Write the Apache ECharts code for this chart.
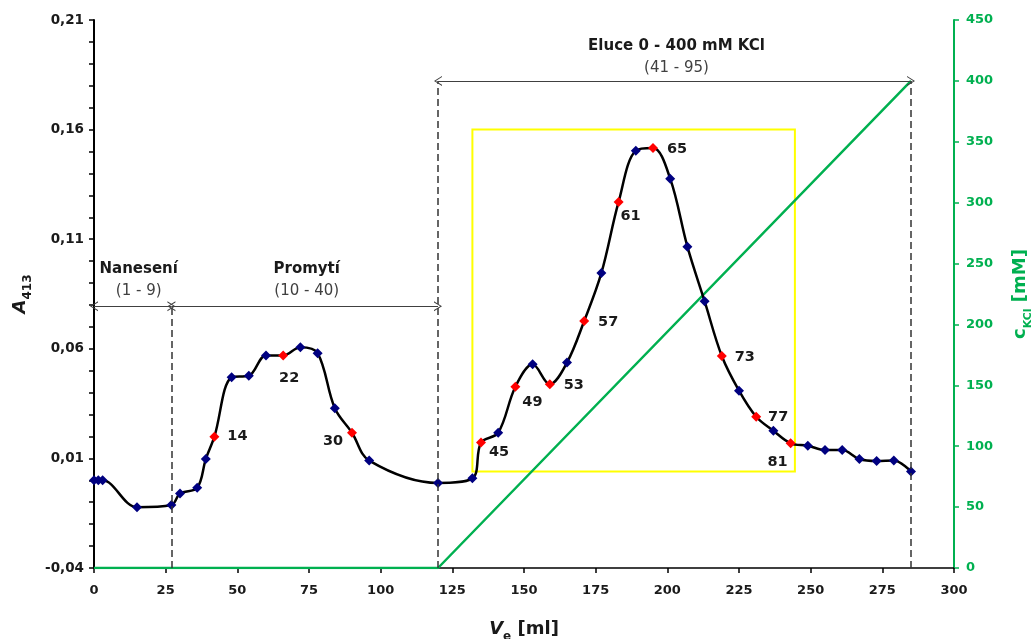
<!DOCTYPE html>
<html>
<head>
<meta charset="utf-8">
<script src="https://cdn.jsdelivr.net/npm/echarts@6/dist/echarts.min.js"></script>
<style>
  html, body { margin: 0; padding: 0; background: #fff; }
  #chart { width: 1033px; height: 639px; }
</style>
</head>
<body>
<div id="chart"></div>
<script>
// elution volume [ml] and absorbance at 413 nm
const volume = [0, 1.5, 3, 15, 27, 30, 36, 39, 42, 48, 54, 60, 66, 72, 78, 84, 90, 96, 120,
  132, 135, 141, 147, 153, 159, 165, 171, 177, 183, 189, 195, 201, 207, 213, 219, 225, 231,
  237, 243, 249, 255, 261, 267, 273, 279, 285];
const absorbance = [0.0, 0.0, 0.0, -0.0123, -0.0113, -0.006, -0.0034, 0.0097, 0.0199, 0.047,
  0.0477, 0.057, 0.057, 0.0607, 0.058, 0.0329, 0.0217, 0.009, -0.0012,
  0.0009, 0.0172, 0.0217, 0.0427, 0.0529, 0.0438, 0.0537, 0.0727, 0.0946, 0.127, 0.1504,
  0.1516, 0.1376, 0.1066, 0.0817, 0.0567, 0.0409, 0.029, 0.0226, 0.0169, 0.0158, 0.0138,
  0.0138, 0.0097, 0.0088, 0.009, 0.004];
// fractions marked red (1 fraction = 3 ml)
const markedFractions = [14, 22, 30, 45, 49, 53, 57, 61, 65, 73, 77, 81];
const fractionVolume = 3;

// KCl gradient
const kclVolume = [0, 120, 285];
const kclConc = [0, 0, 400];

// phases
const phaseNames = ['Nanesení', 'Promytí', 'Eluce 0 - 400 mM KCl'];
const phaseFractions = ['(1 - 9)', '(10 - 40)', '(41 - 95)'];
const phaseStart = [0, 27, 120];
const phaseEnd = [27, 120, 285];

// axis ranges
const xMin = 0, xMax = 300, xStep = 25;
const yMin = -0.04, yMax = 0.21, yStep = 0.05;
const y2Min = 0, y2Max = 450, y2Step = 50;

// pooled region (yellow box)
const poolBox = [[132, 0.004], [244.5, 0.16]];

// label placement per marked fraction (style only)
const labelOffset = {
  14: [23, 0], 22: [6, 23], 30: [-19, 8], 45: [18, 10], 49: [17, 16], 53: [24, 1],
  57: [24, 1], 61: [12, 14], 65: [24, 1], 73: [23, 1], 77: [22, 0], 81: [-13, 19]
};
const arrowLevel = [215, 215, 400];   // in mM (right axis units)

const FONT = 'DejaVu Sans';
const GREEN = '#00B050';
const TEXT = '#1a1a1a';
const arrowHead = 'path://M5,0 L10,10 L8.8,10 L5,2.2 L1.2,10 L0,10 Z';

const pointData = volume.map((v, i) => {
  const frac = Math.round(v / fractionVolume);
  const isMarked = markedFractions.includes(frac) && Math.abs(v - frac * fractionVolume) < 1e-9;
  const item = { value: [v, absorbance[i]] };
  if (isMarked) {
    item.itemStyle = { color: '#FF0000' };
    item.label = {
      show: true,
      position: 'inside',
      offset: labelOffset[frac] || [20, 0],
      formatter: String(frac),
      color: TEXT,
      fontFamily: FONT,
      fontWeight: 'bold',
      fontSize: 14.5
    };
  }
  return item;
});

const kclData = kclVolume.map((v, i) => [v, kclConc[i]]);

const dashedLines = [];
[phaseStart[1], phaseStart[2], phaseEnd[2]].forEach((x, i) => {
  const top = i === 0 ? arrowLevel[0] : arrowLevel[2];
  dashedLines.push([
    { coord: [x, 0], symbol: 'none', lineStyle: { type: [7, 4], color: '#333', width: 1.5 }, label: { show: false } },
    { coord: [x, top], symbol: 'none' }
  ]);
});

const arrowLines = phaseNames.map((name, i) => [
  {
    coord: [phaseStart[i], arrowLevel[i]],
    symbol: arrowHead,
    lineStyle: { type: 'solid', color: '#404040', width: 1 },
    label: {
      show: true,
      position: 'insideMiddleTop',
      distance: i === 2 ? 2 : 5,
      padding: i === 0 ? [0, 0, 0, 12] : [0, 0, 0, 4],
      formatter: '{b|' + name + '}\n{n|' + phaseFractions[i] + '}',
      rich: {
        b: { fontFamily: FONT, fontWeight: 'bold', fontSize: 15, color: TEXT, lineHeight: 23 },
        n: { fontFamily: FONT, fontSize: 15, color: '#404040', lineHeight: 21 }
      }
    }
  },
  { coord: [phaseEnd[i], arrowLevel[i]], symbol: arrowHead }
]);

const chart = echarts.init(document.getElementById('chart'));

const option = {
  animation: false,
  grid: { left: 94, right: 79, top: 20, bottom: 71, containLabel: false, outerBoundsMode: 'none' },
  xAxis: {
    type: 'value',
    min: xMin, max: xMax, interval: xStep,
    name: '{v|V}{s|e}{n| [ml]}',
    nameLocation: 'middle',
    nameGap: 46,
    nameTextStyle: {
      rich: {
        v: { fontFamily: FONT, fontStyle: 'italic', fontWeight: 'bold', fontSize: 18, color: TEXT, lineHeight: 24, verticalAlign: 'bottom' },
        s: { fontFamily: FONT, fontWeight: 'bold', fontSize: 12, color: TEXT, lineHeight: 24, verticalAlign: 'bottom', padding: [0, 0, -5, 0] },
        n: { fontFamily: FONT, fontWeight: 'bold', fontSize: 18, color: TEXT, lineHeight: 24, verticalAlign: 'bottom' }
      }
    },
    axisLine: { onZero: false, lineStyle: { color: '#000', width: 1.5 } },
    axisTick: { show: true, length: 5, lineStyle: { color: '#000', width: 1.5 } },
    axisLabel: { margin: 16, fontFamily: FONT, fontWeight: 'bold', fontSize: 13, color: TEXT },
    splitLine: { show: false }
  },
  yAxis: [
    {
      type: 'value',
      position: 'left',
      min: yMin, max: yMax, interval: yStep,
      name: '{a|A}{s|413}',
      nameLocation: 'middle',
      nameRotate: 90,
      nameGap: 64,
      nameTextStyle: {
        rich: {
          a: { fontFamily: FONT, fontStyle: 'italic', fontWeight: 'bold', fontSize: 18, color: TEXT, lineHeight: 24, verticalAlign: 'bottom' },
          s: { fontFamily: FONT, fontWeight: 'bold', fontSize: 12, color: TEXT, lineHeight: 24, verticalAlign: 'bottom', padding: [0, 0, -5, 0] }
        }
      },
      axisLine: { show: true, onZero: false, lineStyle: { color: '#000', width: 2 } },
      axisTick: { show: true, length: 5, lineStyle: { color: '#000', width: 1.5 } },
      minorTick: { show: true, splitNumber: 5, length: 5, lineStyle: { color: '#000', width: 1.5 } },
      axisLabel: {
        margin: 10, fontFamily: FONT, fontWeight: 'bold', fontSize: 13.5, color: TEXT,
        formatter: v => v.toFixed(2).replace('.', ',')
      },
      splitLine: { show: false }
    },
    {
      type: 'value',
      position: 'right',
      min: y2Min, max: y2Max, interval: y2Step,
      name: '{c|c}{s|KCl}{n| [mM]}',
      nameLocation: 'middle',
      nameRotate: 90,
      nameGap: 51,
      nameTextStyle: {
        rich: {
          c: { fontFamily: FONT, fontWeight: 'bold', fontSize: 18, color: GREEN, lineHeight: 24, verticalAlign: 'bottom' },
          s: { fontFamily: FONT, fontWeight: 'bold', fontSize: 11, color: GREEN, lineHeight: 24, verticalAlign: 'bottom', padding: [0, 0, -5, 0] },
          n: { fontFamily: FONT, fontWeight: 'bold', fontSize: 18, color: GREEN, lineHeight: 24, verticalAlign: 'bottom' }
        }
      },
      axisLine: { show: true, onZero: false, lineStyle: { color: GREEN, width: 2 } },
      axisTick: { show: true, length: 5, lineStyle: { color: GREEN, width: 1.5 } },
      axisLabel: { margin: 12, fontFamily: FONT, fontWeight: 'bold', fontSize: 13, color: GREEN },
      splitLine: { show: false }
    }
  ],
  series: [
    {
      name: 'KCl',
      type: 'line',
      yAxisIndex: 1,
      data: kclData,
      symbol: 'none',
      lineStyle: { color: GREEN, width: 2.5 },
      z: 2,
      markLine: {
        silent: true,
        symbolSize: [10, 8],
        label: { show: false },
        emphasis: { disabled: true },
        data: dashedLines.concat(arrowLines)
      }
    },
    {
      name: 'A413',
      type: 'line',
      yAxisIndex: 0,
      data: pointData,
      smooth: 0.35,
      symbol: 'diamond',
      symbolSize: 10,
      showAllSymbol: true,
      lineStyle: { color: '#000', width: 2.5 },
      itemStyle: { color: '#000080' },
      z: 3,
      markArea: {
        silent: true,
        itemStyle: { color: 'rgba(0,0,0,0)', borderColor: '#FFFF00', borderWidth: 2 },
        data: [[{ coord: poolBox[0] }, { coord: poolBox[1] }]]
      }
    }
  ]
};

chart.setOption(option);
</script>
</body>
</html>
